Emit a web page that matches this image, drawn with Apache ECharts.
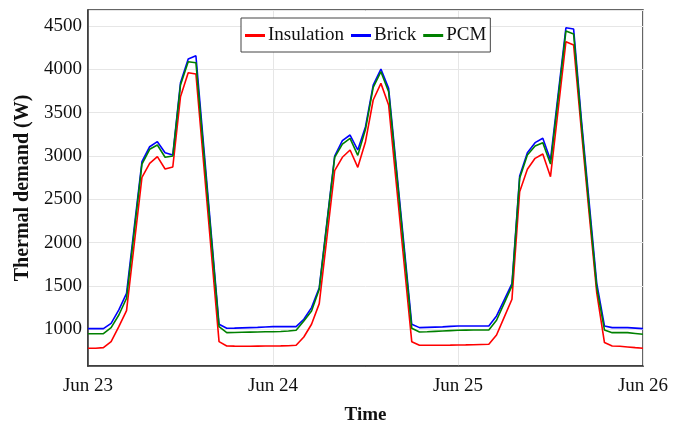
<!DOCTYPE html>
<html>
<head>
<meta charset="utf-8">
<script src="https://cdn.jsdelivr.net/npm/echarts@6/dist/echarts.min.js"></script>
<style>
  html, body { margin: 0; padding: 0; background: #fff; }
  #chart { width: 686px; height: 422px; }
</style>
</head>
<body>
<div id="chart"></div>
<script>
// Hours since Jun 23 00:00, one reading per hour over three days.
const hours = [
  0, 1, 2, 3, 4, 5, 6, 7, 8, 9, 10, 11, 12, 13, 14, 15, 16, 17, 18, 19, 20, 21, 22, 23,
  24, 25, 26, 27, 28, 29, 30, 31, 32, 33, 34, 35, 36, 37, 38, 39, 40, 41, 42, 43, 44, 45, 46, 47,
  48, 49, 50, 51, 52, 53, 54, 55, 56, 57, 58, 59, 60, 61, 62, 63, 64, 65, 66, 67, 68, 69, 70, 71,
  72
];
const dayLabels = ['Jun 23', 'Jun 24', 'Jun 25', 'Jun 26'];

const insulation = [
  781, 781, 788, 857, 1030, 1215, 1985, 2754, 2915, 2992, 2850, 2873, 3684, 3961, 3946, 2916, 1887, 857, 807, 805, 804, 804, 805, 806,
  807, 808, 810, 815, 911, 1058, 1296, 2063, 2831, 2985, 3069, 2869, 3165, 3646, 3838, 3588, 2678, 1768, 857, 815, 815, 816, 816, 817,
  819, 820, 822, 825, 827, 934, 1140, 1346, 2588, 2846, 2973, 3023, 2761, 3540, 4319, 4280, 3300, 2350, 1420, 846, 807, 804, 796, 788,
  781
];
const brick = [
  1007, 1007, 1007, 1069, 1223, 1415, 2175, 2934, 3107, 3165, 3038, 3011, 3846, 4119, 4157, 3124, 2091, 1058, 1011, 1013, 1016, 1019, 1022, 1026,
  1030, 1030, 1030, 1030, 1115, 1250, 1480, 2240, 3000, 3177, 3242, 3069, 3338, 3819, 4004, 3780, 2873, 1965, 1058, 1019, 1022, 1025, 1028, 1033,
  1038, 1038, 1038, 1038, 1038, 1154, 1340, 1526, 2769, 3038, 3154, 3204, 2954, 3717, 4480, 4465, 3430, 2480, 1530, 1038, 1019, 1019, 1019, 1013,
  1007
];
const pcm = [
  949, 949, 949, 1019, 1165, 1358, 2132, 2907, 3077, 3127, 2985, 3000, 3819, 4088, 4077, 3061, 2046, 1030, 961, 963, 965, 967, 969, 971,
  972, 975, 980, 988, 1096, 1211, 1461, 2223, 2985, 3138, 3204, 3007, 3308, 3792, 3973, 3742, 2832, 1921, 1011, 969, 972, 976, 980, 984,
  988, 990, 991, 992, 992, 1104, 1302, 1500, 2742, 3011, 3115, 3154, 2907, 3675, 4442, 4407, 3380, 2420, 1480, 992, 961, 961, 961, 952,
  942
];

const FONT = '"Liberation Serif", "Times New Roman", serif';

const pairs = (ys) => hours.map((h, i) => [h, ys[i]]);
const line = (name, color, ys) => ({
  name,
  type: 'line',
  data: pairs(ys),
  showSymbol: false,
  lineStyle: { color, width: 1.6 },
  itemStyle: { color },
});

const chart = echarts.init(document.getElementById('chart'), null, { renderer: 'canvas' });
chart.setOption({
  animation: false,
  backgroundColor: '#fff',
  textStyle: { fontFamily: FONT },
  grid: {
    left: 88, right: 43, top: 10, bottom: 56,
    outerBoundsMode: 'none',
    show: true, borderColor: '#333', borderWidth: 1.5,
  },
  legend: {
    left: 241, top: 18,
    padding: [8, 4, 7, 4],
    backgroundColor: '#fff',
    borderColor: '#444',
    borderWidth: 1,
    borderRadius: 0,
    itemGap: 7,
    itemWidth: 20,
    itemHeight: 3,
    icon: 'rect',
    textStyle: { fontFamily: FONT, fontSize: 19, color: '#111', padding: [0, 0, 0, -2] },
    data: ['Insulation', 'Brick', 'PCM'],
  },
  xAxis: {
    type: 'value',
    min: 0, max: 72, interval: 24,
    name: 'Time',
    nameLocation: 'middle',
    nameGap: 40,
    nameTextStyle: { fontFamily: FONT, fontSize: 19, fontWeight: 'bold', color: '#111' },
    axisLine: { show: true, lineStyle: { color: '#333', width: 1.5 } },
    axisTick: { show: false },
    axisLabel: {
      fontFamily: FONT, fontSize: 19, color: '#111', margin: 11,
      formatter: (v) => dayLabels[v / 24] || '',
    },
    splitLine: { show: true, lineStyle: { color: '#e6e6e6', width: 1 } },
  },
  yAxis: {
    type: 'value',
    min: 576, max: 4685, splitNumber: 8,
    name: 'Thermal demand (W)',
    nameLocation: 'middle',
    nameGap: 51,
    nameTextStyle: { fontFamily: FONT, fontSize: 20, fontWeight: 'bold', color: '#111' },
    axisLine: { show: true, lineStyle: { color: '#333', width: 1.5 } },
    axisTick: { show: false },
    axisLabel: {
      fontFamily: FONT, fontSize: 19, color: '#111', margin: 6,
      showMinLabel: false, showMaxLabel: false,
      formatter: (v) => (v % 500 === 0 ? String(v) : ''),
    },
    splitLine: { show: true, lineStyle: { color: '#e6e6e6', width: 1 } },
  },
  series: [
    line('Insulation', '#ff0000', insulation),
    line('Brick', '#0000ff', brick),
    line('PCM', '#008000', pcm),
  ],
});
</script>
</body>
</html>
